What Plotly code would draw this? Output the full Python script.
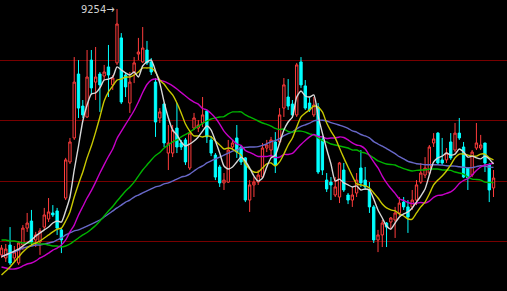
import plotly.graph_objects as go

# ---- data ----
opens = [8035,8020,8084,8020,7995,8084,8168,8203,8109,8099,
         8173,8213,8243,8253,8159,8317,8496,8615,8932,8773,
         8719,9001,8892,8932,8922,8967,8878,8987,9111,8927,
         8788,8942,9031,8992,9051,8992,8892,8714,8783,8540,
         8540,8664,8590,8605,8466,8664,8664,8689,8749,8605,
         8530,8471,8392,8396,8570,8615,8570,8516,8307,8382,
         8396,8421,8565,8555,8595,8595,8763,8818,8783,8729,
         8992,8873,8788,8729,8768,8605,8406,8396,8332,8322,
         8456,8332,8307,8342,8466,8406,8357,8273,8109,8134,
         8193,8198,8208,8243,8297,8273,8273,8307,8396,8431,
         8441,8590,8639,8506,8506,8595,8555,8639,8570,8466,
         8431,8565,8565,8590,8481,8367]
highs = [8084,8089,8173,8079,8104,8183,8243,8258,8149,8168,
         8268,8317,8282,8268,8168,8516,8615,9016,9001,8803,
         9051,9051,9066,8942,8977,9076,8927,9254,9135,8942,
         8942,9016,9111,9165,9096,9011,8912,8763,8788,8679,
         8679,8788,8605,8615,8644,8739,8704,8818,8749,8625,
         8540,8481,8441,8605,8605,8679,8580,8520,8406,8421,
         8456,8590,8605,8620,8644,8763,8912,8907,8803,8987,
         9016,8902,8818,8818,8788,8625,8441,8421,8421,8496,
         8491,8342,8372,8441,8555,8471,8396,8282,8159,8208,
         8198,8223,8273,8322,8322,8307,8357,8406,8491,8520,
         8580,8639,8644,8615,8565,8639,8689,8714,8595,8471,
         8555,8689,8630,8590,8491,8456]
lows = [8020,8000,7985,8000,7985,8059,8149,8084,8074,8035,
        8158,8198,8223,8134,8044,8307,8486,8605,8714,8714,
        8714,8828,8803,8744,8902,8818,8853,8977,8783,8818,
        8739,8887,9001,8987,8977,8927,8620,8689,8570,8456,
        8520,8540,8555,8481,8456,8654,8644,8669,8590,8525,
        8406,8372,8357,8392,8555,8516,8481,8297,8248,8322,
        8382,8416,8545,8520,8441,8580,8719,8754,8714,8719,
        8863,8754,8744,8719,8436,8431,8347,8307,8322,8292,
        8347,8287,8273,8322,8372,8357,8243,8094,8049,8074,
        8074,8159,8119,8228,8258,8144,8258,8282,8387,8416,
        8431,8570,8481,8481,8491,8506,8545,8605,8416,8357,
        8421,8555,8555,8446,8297,8322]
closes = [8069,8064,7995,8049,8094,8168,8193,8099,8134,8154,
          8233,8248,8233,8168,8109,8506,8595,8892,8763,8729,
          8917,8863,8917,8878,8942,8927,8912,9180,8793,8868,
          8892,8987,9041,9061,8987,8942,8694,8744,8590,8590,
          8654,8570,8570,8496,8639,8714,8679,8729,8620,8540,
          8421,8392,8406,8555,8590,8545,8496,8307,8382,8396,
          8431,8565,8580,8605,8481,8729,8878,8773,8729,8977,
          8878,8763,8754,8778,8446,8456,8362,8382,8372,8491,
          8357,8307,8332,8406,8392,8372,8273,8109,8134,8193,
          8173,8218,8243,8292,8273,8223,8307,8382,8441,8466,
          8570,8610,8491,8491,8540,8516,8639,8615,8421,8416,
          8545,8590,8580,8491,8357,8416]

ma5 = [8025,8035,8044,8054,8064,8079,8094,8109,8129,8144,
       8159,8173,8193,8203,8198,8253,8322,8456,8575,8699,
       8778,8833,8838,8863,8902,8907,8917,8967,8952,8937,
       8927,8942,8917,8972,8992,9001,8947,8887,8793,8714,
       8654,8630,8595,8575,8585,8600,8620,8649,8674,8654,
       8600,8540,8476,8461,8471,8496,8520,8501,8466,8426,
       8401,8416,8471,8516,8530,8590,8654,8694,8719,8818,
       8848,8823,8818,8828,8724,8639,8560,8486,8401,8411,
       8392,8382,8372,8377,8357,8362,8357,8312,8258,8218,
       8178,8163,8193,8223,8238,8248,8268,8297,8327,8362,
       8431,8496,8516,8525,8540,8530,8535,8560,8545,8520,
       8525,8516,8511,8525,8511,8486]
ma10 = [7935,7955,7975,8000,8025,8049,8069,8084,8094,8104,
        8119,8134,8149,8163,8168,8203,8248,8322,8387,8446,
        8516,8575,8644,8719,8798,8843,8873,8902,8907,8917,
        8917,8927,8942,8962,8962,8962,8942,8902,8882,8853,
        8828,8788,8739,8684,8649,8625,8625,8620,8625,8620,
        8600,8580,8560,8565,8560,8545,8530,8486,8461,8446,
        8446,8466,8486,8491,8476,8496,8535,8580,8615,8669,
        8719,8739,8754,8773,8768,8744,8689,8649,8615,8565,
        8516,8471,8426,8387,8382,8377,8367,8342,8317,8287,
        8268,8258,8253,8238,8228,8213,8213,8243,8273,8297,
        8337,8382,8406,8426,8451,8481,8516,8535,8535,8530,
        8525,8525,8535,8535,8516,8506]
ma20 = [7975,7970,7965,7965,7970,7980,7990,7995,8005,8020,
        8030,8044,8059,8069,8084,8109,8149,8183,8233,8275,
        8317,8354,8396,8441,8483,8523,8560,8612,8647,8682,
        8716,8751,8793,8840,8880,8902,8907,8902,8895,8885,
        8873,8858,8840,8823,8806,8793,8783,8761,8754,8736,
        8714,8684,8649,8625,8605,8585,8578,8553,8543,8533,
        8523,8523,8523,8528,8518,8520,8533,8533,8538,8560,
        8582,8602,8620,8632,8622,8620,8612,8615,8615,8620,
        8617,8605,8590,8580,8575,8560,8528,8496,8466,8426,
        8392,8364,8340,8312,8305,8295,8290,8292,8295,8292,
        8302,8320,8330,8332,8340,8347,8364,8389,8404,8414,
        8431,8454,8471,8481,8483,8493]
ma40 = [8109,8109,8104,8104,8099,8094,8094,8094,8094,8089,
        8089,8084,8079,8079,8074,8079,8089,8104,8119,8134,
        8146,8163,8181,8203,8228,8253,8275,8302,8327,8352,
        8372,8396,8426,8456,8481,8506,8528,8543,8565,8580,
        8595,8605,8620,8632,8644,8659,8672,8687,8699,8709,
        8714,8719,8721,8734,8744,8744,8744,8729,8719,8709,
        8699,8689,8682,8674,8662,8657,8659,8647,8644,8649,
        8649,8644,8635,8630,8615,8602,8595,8585,8580,8575,
        8570,8565,8555,8555,8545,8540,8530,8516,8501,8493,
        8486,8483,8481,8471,8463,8456,8451,8454,8456,8456,
        8461,8461,8461,8456,8456,8454,8446,8441,8436,8421,
        8411,8409,8406,8396,8394,8394]
ma60 = [8030,8035,8044,8049,8059,8069,8074,8079,8084,8084,
        8089,8094,8099,8109,8119,8134,8144,8154,8159,8168,
        8178,8188,8198,8208,8223,8238,8253,8268,8282,8297,
        8307,8322,8332,8342,8352,8362,8372,8377,8387,8392,
        8401,8411,8421,8426,8436,8451,8466,8476,8491,8501,
        8511,8520,8530,8540,8550,8555,8565,8568,8570,8570,
        8572,8578,8586,8596,8602,8612,8626,8636,8645,8660,
        8672,8680,8688,8700,8703,8703,8699,8691,8685,8678,
        8671,8663,8650,8644,8632,8625,8615,8597,8585,8574,
        8562,8550,8537,8522,8511,8499,8493,8487,8485,8482,
        8482,8482,8482,8480,8477,8476,8475,8472,8470,8467,
        8468,8473,8477,8475,8470,8469]

grid_levels = [8100, 8400, 8700, 9000]
high_label = "9254"
high_index = 27

# ---- figure ----
idx = list(range(len(closes)))
fig = go.Figure()
fig.add_trace(go.Candlestick(
    x=idx, open=opens, high=highs, low=lows, close=closes,
    increasing=dict(line=dict(color="#ff3c3c", width=1), fillcolor="#000000"),
    decreasing=dict(line=dict(color="#00ffff", width=1), fillcolor="#00ffff"),
    whiskerwidth=0, hoverinfo="skip"))

ma_styles = [
    (ma60, "#6868c8"),
    (ma40, "#00b400"),
    (ma20, "#c800c8"),
    (ma10, "#c8c800"),
    (ma5, "#d8d8d8"),
]
for vals, col in ma_styles:
    fig.add_trace(go.Scatter(x=idx, y=vals, mode="lines",
                             line=dict(color=col, width=1.4, shape="spline", smoothing=0.6),
                             hoverinfo="skip"))

fig.add_annotation(x=high_index, y=highs[high_index], text=high_label + "→",
                   showarrow=False, xanchor="right", yanchor="middle", xshift=-1,
                   font=dict(family="Liberation Sans Narrow, DejaVu Sans Condensed, Arial Narrow, sans-serif",
                             size=11, color="#d0d0d0"))

fig.update_layout(
    width=507, height=291, margin=dict(l=0, r=0, t=0, b=0),
    paper_bgcolor="#000000", plot_bgcolor="#000000", showlegend=False,
    boxgap=0.22,
    xaxis=dict(range=[-0.35, 118.15], visible=False, rangeslider=dict(visible=False)),
    yaxis=dict(range=[7856, 9299], tickvals=grid_levels, showticklabels=False,
               showgrid=True, gridcolor="#780000", gridwidth=1, zeroline=False,
               showline=False, ticks=""),
)

fig.write_html("out.html", config={"displayModeBar": False})
